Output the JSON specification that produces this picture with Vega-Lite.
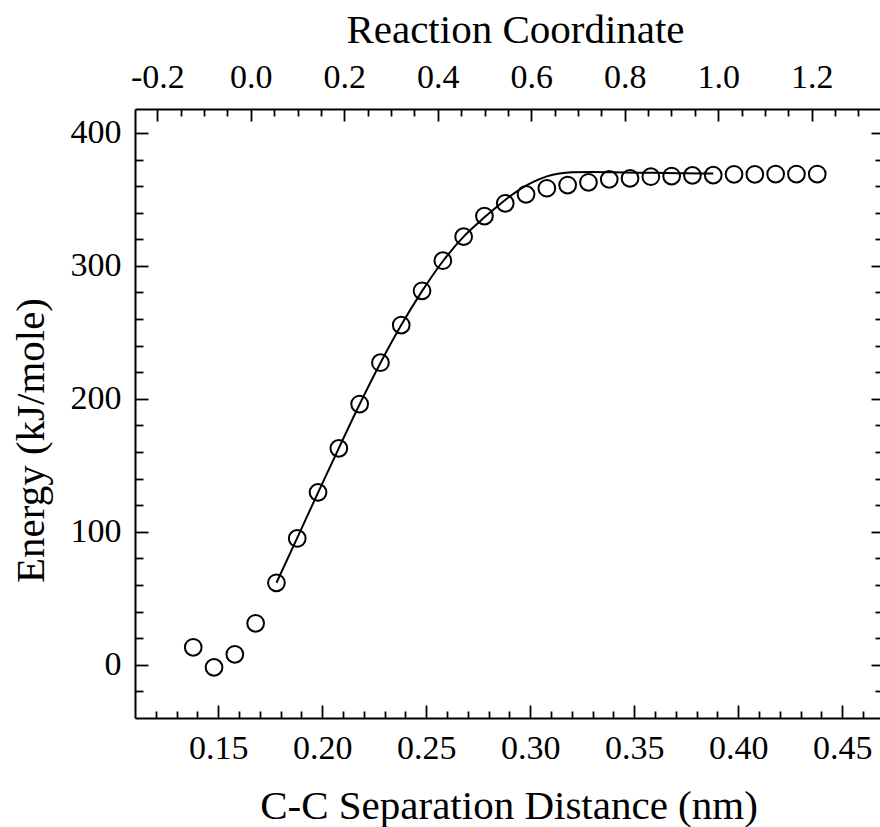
{
  "$schema": "https://vega.github.io/schema/vega-lite/v6.json",
  "width": 745,
  "height": 609,
  "autosize": {"type": "none"},
  "padding": {"left": 135, "top": 109, "right": 0, "bottom": 109},
  "background": "white",
  "config": {
    "view": {"stroke": null},
    "axis": {
      "grid": false,
      "labelFont": "Liberation Serif",
      "titleFont": "Liberation Serif",
      "labelColor": "black",
      "titleColor": "black",
      "domainColor": "black",
      "tickColor": "black",
      "labelFontSize": 34,
      "titleFontSize": 41,
      "titleFontWeight": "normal",
      "tickWidth": 1.8,
      "domainWidth": 2,
      "labelFlush": false,
      "labelOverlap": false,
      "labelBound": false
    }
  },
  "datasets": {
    "pts": [
      {"d": 0.138, "E": 13.2}, {"d": 0.148, "E": -1.9}, {"d": 0.158, "E": 7.9},
      {"d": 0.168, "E": 31.2}, {"d": 0.178, "E": 61.7}, {"d": 0.188, "E": 95.0},
      {"d": 0.198, "E": 129.7}, {"d": 0.208, "E": 162.8}, {"d": 0.218, "E": 196.1},
      {"d": 0.228, "E": 227.2}, {"d": 0.238, "E": 255.5}, {"d": 0.248, "E": 281.3},
      {"d": 0.258, "E": 303.9}, {"d": 0.268, "E": 322.0}, {"d": 0.278, "E": 337.5},
      {"d": 0.288, "E": 347.1}, {"d": 0.298, "E": 353.8}, {"d": 0.308, "E": 358.4},
      {"d": 0.318, "E": 360.8}, {"d": 0.328, "E": 362.9}, {"d": 0.338, "E": 365.1},
      {"d": 0.348, "E": 365.9}, {"d": 0.358, "E": 367.1}, {"d": 0.368, "E": 367.6},
      {"d": 0.378, "E": 368.1}, {"d": 0.388, "E": 368.3}, {"d": 0.398, "E": 368.9},
      {"d": 0.408, "E": 368.9}, {"d": 0.418, "E": 369.1}, {"d": 0.428, "E": 369.1},
      {"d": 0.438, "E": 369.1}
    ],
    "fit": [
      {"d": 0.178, "E": 61.7}, {"d": 0.188, "E": 95.5}, {"d": 0.198, "E": 129.5},
      {"d": 0.208, "E": 163.0}, {"d": 0.218, "E": 196.0}, {"d": 0.228, "E": 227.0},
      {"d": 0.238, "E": 255.5}, {"d": 0.248, "E": 281.0}, {"d": 0.258, "E": 303.5},
      {"d": 0.268, "E": 322.0}, {"d": 0.278, "E": 336.5}, {"d": 0.284, "E": 344.5},
      {"d": 0.290, "E": 352.0}, {"d": 0.296, "E": 358.5}, {"d": 0.302, "E": 363.5},
      {"d": 0.308, "E": 367.3}, {"d": 0.314, "E": 369.5}, {"d": 0.320, "E": 370.4},
      {"d": 0.330, "E": 370.6}, {"d": 0.345, "E": 370.3}, {"d": 0.360, "E": 370.0},
      {"d": 0.375, "E": 369.7}, {"d": 0.388, "E": 369.4}
    ]
  },
  "layer": [
    {
      "data": {"name": "fit"},
      "mark": {"type": "line", "color": "black", "strokeWidth": 2, "interpolate": "monotone"},
      "encoding": {
        "x": {"field": "d", "type": "quantitative",
          "scale": {"domain": [0.11, 0.46817], "nice": false, "zero": false},
          "axis": {"orient": "bottom", "values": [0.15, 0.2, 0.25, 0.3, 0.35, 0.4, 0.45], "format": ".2f",
            "ticks": false, "domain": true, "labelPadding": 40, "labelBaseline": "alphabetic",
            "title": "C-C Separation Distance (nm)", "titleX": 373.5, "titleY": 100,
            "titleBaseline": "alphabetic", "titleAlign": "center"}},
        "y": {"field": "E", "type": "quantitative",
          "scale": {"domain": [-40, 418], "nice": false, "zero": false},
          "axis": {"orient": "left", "values": [0, 100, 200, 300, 400], "format": "d",
            "ticks": false, "domain": true, "labelPadding": 14,
            "title": "Energy (kJ/mole)", "titleX": -92, "titleY": 331, "titleAngle": 270,
            "titleBaseline": "alphabetic", "titleAlign": "center"}}
      }
    },
    {
      "data": {"name": "pts"},
      "mark": {"type": "point", "shape": "circle", "filled": false, "size": 280, "stroke": "black", "strokeWidth": 2, "opacity": 1},
      "encoding": {
        "x": {"field": "d", "type": "quantitative",
          "scale": {"domain": [0.11, 0.46817], "nice": false, "zero": false},
          "axis": {"orient": "bottom", "values": [0.15, 0.2, 0.25, 0.3, 0.35, 0.4, 0.45],
            "offset": -13, "tickSize": 13, "labels": false, "domain": false, "title": null}},
        "y": {"field": "E", "type": "quantitative",
          "scale": {"domain": [-40, 418], "nice": false, "zero": false},
          "axis": {"orient": "left", "values": [0, 100, 200, 300, 400],
            "offset": -13, "tickSize": 13, "labels": false, "domain": false, "title": null}}
      }
    },
    {
      "data": {"name": "pts"},
      "mark": {"type": "point", "opacity": 0},
      "encoding": {
        "x": {"field": "d", "type": "quantitative",
          "scale": {"domain": [0.11, 0.46817], "nice": false, "zero": false},
          "axis": {"orient": "bottom", "values": [0.12, 0.13, 0.14, 0.16, 0.17, 0.18, 0.19, 0.21, 0.22, 0.23, 0.24, 0.26, 0.27, 0.28, 0.29, 0.31, 0.32, 0.33, 0.34, 0.36, 0.37, 0.38, 0.39, 0.41, 0.42, 0.43, 0.44, 0.46],
            "offset": -7, "tickSize": 7, "labels": false, "domain": false, "title": null}},
        "y": {"field": "E", "type": "quantitative",
          "scale": {"domain": [-40, 418], "nice": false, "zero": false},
          "axis": {"orient": "left", "values": [-20, 20, 40, 60, 80, 120, 140, 160, 180, 220, 240, 260, 280, 320, 340, 360, 380],
            "offset": -8, "tickSize": 8, "labels": false, "domain": false, "title": null}}
      }
    },
    {
      "data": {"name": "pts"},
      "mark": {"type": "point", "opacity": 0},
      "encoding": {
        "x": {"field": "rc", "type": "quantitative",
          "scale": {"domain": [-0.2478, 1.3462], "nice": false, "zero": false},
          "axis": {"orient": "top", "values": [-0.2, 0, 0.2, 0.4, 0.6, 0.8, 1.0, 1.2],
            "labelExpr": "datum.value < 0 ? '-' + format(-datum.value, '.1f') : format(datum.value, '.1f')",
            "ticks": false, "domain": true, "labelPadding": 22, "labelBaseline": "alphabetic",
            "title": "Reaction Coordinate", "titleX": 380, "titleY": -67,
            "titleBaseline": "alphabetic", "titleAlign": "center"}},
        "y": {"field": "E", "type": "quantitative",
          "scale": {"domain": [-40, 418], "nice": false, "zero": false},
          "axis": {"orient": "right", "values": [0, 100, 200, 300, 400],
            "offset": -9, "tickSize": 9, "labels": false, "domain": false, "title": null}}
      }
    },
    {
      "data": {"name": "pts"},
      "mark": {"type": "point", "opacity": 0},
      "encoding": {
        "x": {"field": "rc", "type": "quantitative",
          "scale": {"domain": [-0.2478, 1.3462], "nice": false, "zero": false},
          "axis": {"orient": "top", "values": [-0.2, 0, 0.2, 0.4, 0.6, 0.8, 1.0, 1.2],
            "offset": -12, "tickSize": 12, "labels": false, "domain": false, "title": null}},
        "y": {"field": "E", "type": "quantitative",
          "scale": {"domain": [-40, 418], "nice": false, "zero": false},
          "axis": {"orient": "right", "values": [-20, 20, 40, 60, 80, 120, 140, 160, 180, 220, 240, 260, 280, 320, 340, 360, 380],
            "offset": -5, "tickSize": 5, "labels": false, "domain": false, "title": null}}
      }
    },
    {
      "data": {"name": "pts"},
      "mark": {"type": "point", "opacity": 0},
      "encoding": {
        "x": {"field": "rc", "type": "quantitative",
          "scale": {"domain": [-0.2478, 1.3462], "nice": false, "zero": false},
          "axis": {"orient": "top", "values": [-0.15, -0.1, -0.05, 0.05, 0.1, 0.15, 0.25, 0.3, 0.35, 0.45, 0.5, 0.55, 0.65, 0.7, 0.75, 0.85, 0.9, 0.95, 1.05, 1.1, 1.15, 1.25, 1.3],
            "offset": -7, "tickSize": 7, "labels": false, "domain": false, "title": null}},
        "y": {"field": "E", "type": "quantitative",
          "scale": {"domain": [-40, 418], "nice": false, "zero": false},
          "axis": null}
      }
    }
  ],
  "resolve": {
    "scale": {"x": "independent", "y": "independent"},
    "axis": {"x": "independent", "y": "independent"}
  }
}
